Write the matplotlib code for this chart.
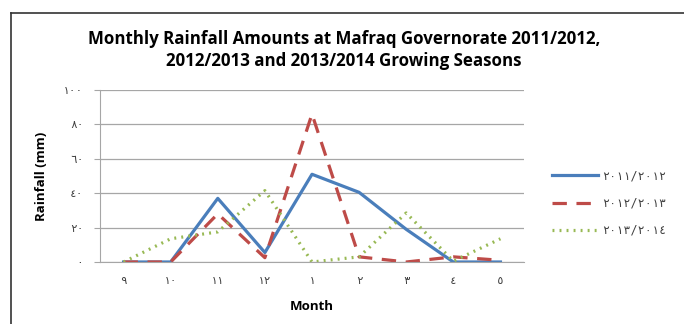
import matplotlib
matplotlib.use("Agg")
import matplotlib.pyplot as plt
from matplotlib.lines import Line2D

months = ["٩", "١٠", "١١", "١٢", "١", "٢", "٣", "٤", "٥"]
season_names = ["٢٠١١/٢٠١٢", "٢٠١٢/٢٠١٣", "٢٠١٣/٢٠١٤"]
rain_2011 = [0, 0, 37, 5.5, 51, 40.5, 19, 0, 0]
rain_2012 = [0, 0, 28, 2.5, 86, 3, 0, 3, 1]
rain_2013 = [0, 13.5, 17.5, 41.5, 0, 3, 28.5, 0.5, 13.5]
y_ticks = [0, 20, 40, 60, 80, 100]
y_tick_labels = ["٠", "٢٠", "٤٠", "٦٠", "٨٠", "١٠٠"]

blue = "#4a7ebb"
red = "#be4b48"
green = "#98b954"
grid_col = "#a6a6a6"
digit_font = ["DejaVu Sans Mono", "DejaVu Sans"]

fig = plt.figure(figsize=(6.84, 3.24), dpi=100)
ax = fig.add_axes([100 / 684, 1 - 262 / 324, 424 / 684, 172 / 324])

x = list(range(len(months)))
ax.plot(x, rain_2011, color=blue, lw=2.3, label=season_names[0])
ax.plot(x, rain_2012, color=red, lw=2.3, dashes=(4.5, 3), label=season_names[1])
ax.plot(x, rain_2013, color=green, lw=2.3, dashes=(0.6, 1.6), label=season_names[2])

ax.set_xlim(-0.5, len(months) - 0.5)
ax.set_ylim(0, 100)
ax.set_yticks(y_ticks)
ax.set_yticklabels(y_tick_labels, family=digit_font, fontsize=8, color="#404040")
ax.set_xticks(x)
ax.set_xticklabels(months, family=digit_font, fontsize=8, color="#404040")
ax.tick_params(axis="x", length=0, pad=10)
ax.tick_params(axis="y", length=4, width=0.8, color=grid_col, pad=8)
ax.yaxis.grid(True, color=grid_col, lw=0.9)
ax.set_axisbelow(True)
for side in ["top", "right"]:
    ax.spines[side].set_visible(False)
ax.spines["left"].set_color(grid_col)
ax.spines["bottom"].set_color(grid_col)

ax.set_xlabel("Month", family="Open Sans", fontweight="bold", fontsize=9.5, labelpad=10)
ax.set_ylabel("Rainfall (mm)", family="Open Sans", fontweight="bold", fontsize=9.5, labelpad=11)

fig.text(0.503, 1 - 50 / 324,
         "Monthly Rainfall Amounts at Mafraq Governorate 2011/2012,\n"
         "2012/2013 and 2013/2014 Growing Seasons",
         ha="center", va="center", family="Open Sans", fontweight="bold",
         fontsize=12.2, linespacing=1.35)

leg = fig.legend(loc="upper left", bbox_to_anchor=(541 / 684, 1 - 159 / 324),
                 frameon=False, handlelength=3.9, handletextpad=0.35, labelspacing=1.2,
                 prop={"family": digit_font, "size": 8.5})
for t in leg.get_texts():
    t.set_color("#404040")

# chart frame (top and left edges visible)
fig.add_artist(Line2D([11 / 684, 1.01], [1 - 13 / 324] * 2, color="#333333", lw=1.2))
fig.add_artist(Line2D([11 / 684] * 2, [-0.01, 1 - 13 / 324], color="#333333", lw=1.2))

fig.savefig("out.png", dpi=100)
